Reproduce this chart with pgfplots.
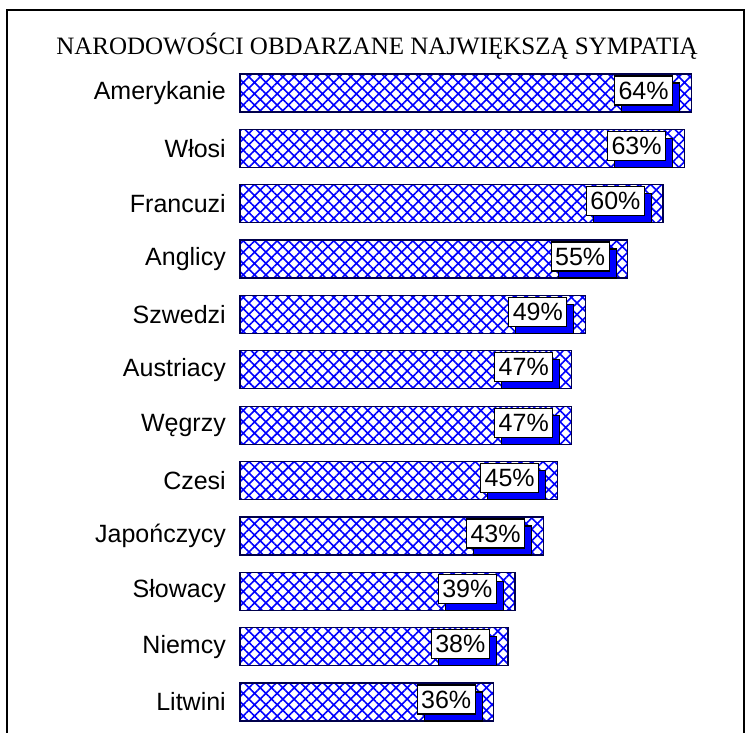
\documentclass[border=0pt]{standalone}
\usepackage{pgfplots}
\pgfplotsset{compat=1.18}
\usepackage{fontspec}
\setmainfont{Liberation Sans}
\newfontfamily\seriffont{Liberation Serif}
\usetikzlibrary{patterns.meta,shadows}
\begin{document}
\begin{tikzpicture}
\path[use as bounding box] (0,0) rectangle (752bp,733bp);
\draw[line width=2bp] (7bp,0) -- (7bp,723bp) -- (744bp,723bp) -- (744bp,0);
\node[font=\seriffont\fontsize{25bp}{29bp}\selectfont, inner sep=0] at (377bp,687bp) {NARODOWOŚCI OBDARZANE NAJWIĘKSZĄ SYMPATIĄ};
\begin{axis}[
  at={(240bp,3.3bp)}, anchor=south west,
  scale only axis, width=493.5bp, height=664.4bp,
  xmin=0, xmax=70, ymin=-0.5, ymax=11.5,
  xbar, bar width=38bp,
  axis line style={draw=none},
  xtick=\empty,
  ytick={0,...,11},
  yticklabels={Litwini,Niemcy,Słowacy,Japończycy,Czesi,Węgrzy,Austriacy,Szwedzi,Anglicy,Francuzi,Włosi,Amerykanie},
  major tick length=0,
  yticklabel style={font=\fontsize{25bp}{29bp}\selectfont, inner sep=0, xshift=-14bp},
  /pgf/number format/assume math mode=true,
  nodes near coords={\pgfmathprintnumber{\pgfplotspointmeta}\%},
  every node near coord/.append style={anchor=east, xshift=-18bp, yshift=2.5bp,
    fill=white, draw=black, line width=1.2bp, text=black,
    font=\fontsize{25bp}{29bp}\selectfont, inner sep=0pt,
    minimum height=29bp, minimum width=58bp,
    drop shadow={shadow xshift=7bp, shadow yshift=-7bp, fill=blue, opacity=1}},
  clip=false,
]
\addplot[draw=black!70!blue, line width=1.2bp,
  pattern={Hatch[angle=45,distance=8bp,line width=1.6bp]}, pattern color=blue]
  coordinates {(36,0) (38,1) (39,2) (43,3) (45,4) (47,5) (47,6) (49,7) (55,8) (60,9) (63,10) (64,11)};
\end{axis}
\end{tikzpicture}
\end{document}
